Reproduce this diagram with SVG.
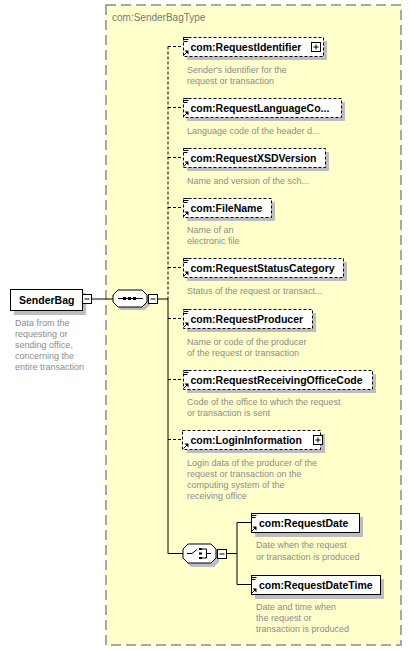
<svg xmlns="http://www.w3.org/2000/svg" width="412" height="651" viewBox="0 0 412 651">
<style>
.name{font-family:"Liberation Sans",Arial,sans-serif;font-weight:bold;font-size:10.5px;fill:#000}
.desc{font-family:"Liberation Sans",Arial,sans-serif;font-size:9px;fill:#8c8c8c}
.title{font-family:"Liberation Sans",Arial,sans-serif;font-size:10px;fill:#777}
.box{fill:#fff;stroke:#000;stroke-width:1}
.opt{stroke-dasharray:3,2}
.shadow{fill:#bdbdbd}
.ln{stroke:#000;stroke-width:1;fill:none}
.dash{stroke-dasharray:3,2}
.ic{stroke:#000;stroke-width:1;fill:none}
</style>
<defs>
<g id="lines"><path class="ic" d="M0.5,0.5h5M0.5,2.5h5M0.5,4.5h4"/></g>
<g id="arrow"><path d="M0.5,5.5L4,2" class="ic"/><path d="M1.5,0.5h4v4z" fill="#000"/></g>
</defs>
<rect x="106" y="5" width="295" height="640" fill="#ffffcc" stroke="#8c8c8c" stroke-width="1.5" stroke-dasharray="10,5"/>
<text class="title" x="112" y="21">com:SenderBagType</text>

<g id="connectors">
<path class="ln" d="M91,299H113"/>
<path class="ln" d="M158,299H168"/>
<path class="ln dash" d="M168,46.5V299"/>
<path class="ln" d="M168,299V553.5"/>
<path class="ln dash" d="M168,46.5H183M168,107.5H183M168,157.5H183M168,207.5H183M168,267.5H183M168,318.5H183M168,379.5H183M168,439.5H183"/>
<path class="ln" d="M168,553.5H183"/>
<path class="ln" d="M227,553.5H237M237,522.5V584.5M237,522.5H251M237,584.5H251"/>
</g>

<g id="SenderBag">
<rect class="shadow" x="14" y="293" width="72" height="22"/>
<rect class="box" x="10.5" y="289.5" width="72" height="21"/>
<text class="name" x="19" y="304">SenderBag</text>
<rect class="box" x="82.5" y="294.5" width="9" height="9"/>
<path class="ln" d="M84.5,299h5"/>
<text class="desc" x="15" y="325.5">Data from the</text>
<text class="desc" x="15" y="336.5">requesting or</text>
<text class="desc" x="15" y="347.5">sending office,</text>
<text class="desc" x="15" y="358.5">concerning the</text>
<text class="desc" x="15" y="369.5">entire transaction</text>
</g>

<g id="sequence">
<path class="shadow" d="M121,293H145L150,298V305L145,310H121L116,305V298Z"/>
<path d="M118,290H142L147,295V302L142,307H118L113,302V295Z" fill="#fff" stroke="#000"/>
<path class="ln" d="M118,298.5H143"/>
<rect x="123" y="297" width="3" height="3" fill="#000"/>
<rect x="128" y="297" width="3" height="3" fill="#000"/>
<rect x="133" y="297" width="3" height="3" fill="#000"/>
<rect class="box" x="148.5" y="294.5" width="9" height="9"/>
<path class="ln" d="M150.5,299h5"/>
</g>

<g id="RequestIdentifier">
<rect class="shadow" x="187" y="41" width="140" height="19"/>
<rect class="box opt" x="183.5" y="37.5" width="140" height="19"/>
<use href="#lines" x="183" y="37"/>
<use href="#arrow" x="183" y="50"/>
<text class="name" x="190.5" y="51">com:RequestIdentifier</text>
<rect class="box" x="311.5" y="42.5" width="9" height="9"/>
<path class="ln" d="M313.5,47h5M316,44.5v5"/>
<text class="desc" x="187" y="73">Sender's identifier for the</text>
<text class="desc" x="187" y="84">request or transaction</text>
</g>

<g id="RequestLanguageCode">
<rect class="shadow" x="187" y="102" width="158" height="19"/>
<rect class="box opt" x="183.5" y="98.5" width="158" height="19"/>
<use href="#lines" x="183" y="98"/>
<use href="#arrow" x="183" y="111"/>
<text class="name" x="190.5" y="112">com:RequestLanguageCo...</text>
<text class="desc" x="187" y="133.5">Language code of the header d...</text>
</g>

<g id="RequestXSDVersion">
<rect class="shadow" x="187" y="152" width="142" height="19"/>
<rect class="box opt" x="183.5" y="148.5" width="142" height="19"/>
<use href="#lines" x="183" y="148"/>
<use href="#arrow" x="183" y="161"/>
<text class="name" x="190.5" y="162">com:RequestXSDVersion</text>
<text class="desc" x="187" y="183.5">Name and version of the sch...</text>
</g>

<g id="FileName">
<rect class="shadow" x="187" y="202" width="88" height="19"/>
<rect class="box opt" x="183.5" y="198.5" width="88" height="19"/>
<use href="#lines" x="183" y="198"/>
<use href="#arrow" x="183" y="211"/>
<text class="name" x="190.5" y="212">com:FileName</text>
<text class="desc" x="187" y="233">Name of an</text>
<text class="desc" x="187" y="244">electronic file</text>
</g>

<g id="RequestStatusCategory">
<rect class="shadow" x="187" y="262" width="160" height="19"/>
<rect class="box opt" x="183.5" y="258.5" width="160" height="19"/>
<use href="#lines" x="183" y="258"/>
<use href="#arrow" x="183" y="271"/>
<text class="name" x="190.5" y="272">com:RequestStatusCategory</text>
<text class="desc" x="187" y="294">Status of the request or transact...</text>
</g>

<g id="RequestProducer">
<rect class="shadow" x="187" y="313" width="129" height="19"/>
<rect class="box opt" x="183.5" y="309.5" width="129" height="19"/>
<use href="#lines" x="183" y="309"/>
<use href="#arrow" x="183" y="322"/>
<text class="name" x="190.5" y="323">com:RequestProducer</text>
<text class="desc" x="187" y="344.5">Name or code of the producer</text>
<text class="desc" x="187" y="355.5">of the request or transaction</text>
</g>

<g id="RequestReceivingOfficeCode">
<rect class="shadow" x="187" y="374" width="189" height="19"/>
<rect class="box opt" x="183.5" y="370.5" width="189" height="19"/>
<use href="#lines" x="183" y="370"/>
<use href="#arrow" x="183" y="383"/>
<text class="name" x="190.5" y="384">com:RequestReceivingOfficeCode</text>
<text class="desc" x="187" y="405">Code of the office to which the request</text>
<text class="desc" x="187" y="416">or transaction is sent</text>
</g>

<g id="LoginInformation">
<rect class="shadow" x="187" y="434" width="138" height="19"/>
<rect class="box opt" x="182.5" y="430.5" width="138" height="19"/>
<use href="#arrow" x="183" y="443"/>
<text class="name" x="190.5" y="444">com:LoginInformation</text>
<rect class="box" x="313.5" y="435.5" width="9" height="9"/>
<path class="ln" d="M315.5,440h5M318,437.5v5"/>
<text class="desc" x="187" y="466">Login data of the producer of the</text>
<text class="desc" x="187" y="477">request or transaction on the</text>
<text class="desc" x="187" y="488">computing system of the</text>
<text class="desc" x="187" y="499">receiving office</text>
</g>

<g id="choice">
<path class="shadow" d="M191,547H214L219,552V562L214,567H191L186,562V552Z"/>
<path d="M188,544H211L216,549V558L211,563H188L183,558V549Z" fill="#fff" stroke="#000"/>
<path class="ln" d="M187,553.5H192L197,549.5"/>
<rect x="199" y="548" width="3" height="2" fill="#000"/>
<rect x="199" y="552.5" width="3" height="2" fill="#000"/>
<rect x="199" y="557" width="3" height="2" fill="#000"/>
<path class="ln" d="M202,549H206.5V558H202M206.5,553.5H211"/>
<rect class="box" x="217.5" y="549.5" width="9" height="9"/>
<path class="ln" d="M219.5,554h5"/>
</g>

<g id="RequestDate">
<rect class="shadow" x="255" y="517" width="108" height="20"/>
<rect class="box" x="251.5" y="513.5" width="108" height="19"/>
<use href="#lines" x="251" y="513"/>
<use href="#arrow" x="251" y="526"/>
<text class="name" x="259" y="527">com:RequestDate</text>
<text class="desc" x="256" y="548">Date when the request</text>
<text class="desc" x="256" y="559.5">or transaction is produced</text>
</g>

<g id="RequestDateTime">
<rect class="shadow" x="255" y="579" width="129" height="20"/>
<rect class="box" x="251.5" y="575.5" width="129" height="19"/>
<use href="#lines" x="251" y="575"/>
<use href="#arrow" x="251" y="588"/>
<text class="name" x="259" y="589">com:RequestDateTime</text>
<text class="desc" x="256" y="609.5">Date and time when</text>
<text class="desc" x="256" y="620.5">the request or</text>
<text class="desc" x="256" y="631.5">transaction is produced</text>
</g>
</svg>
